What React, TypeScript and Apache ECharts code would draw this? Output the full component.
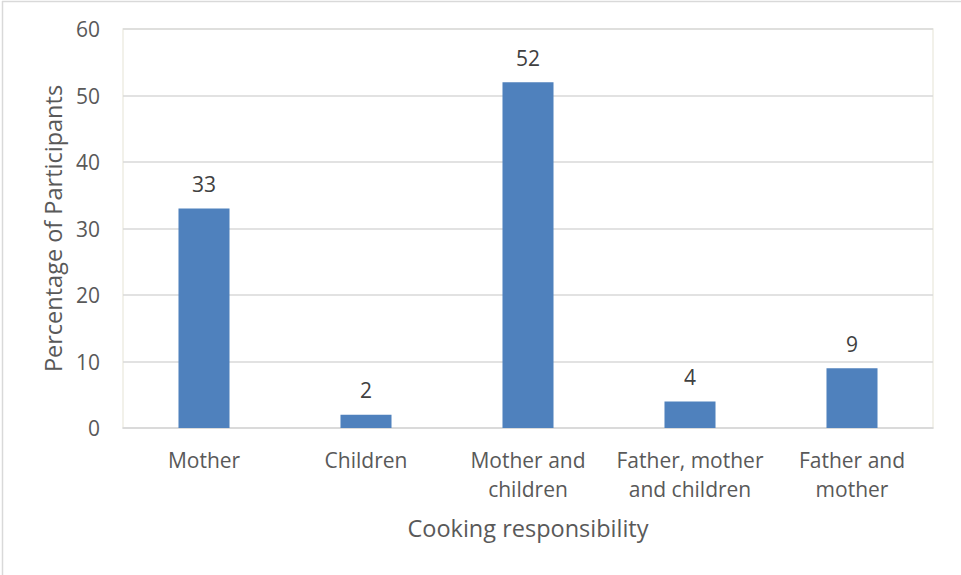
import React, { useEffect, useRef } from "react";
import * as echarts from "echarts";

const categories = ["Mother", "Children", "Mother and\nchildren", "Father, mother\nand children", "Father and\nmother"];
const values = [33, 2, 52, 4, 9];
const yTicks = { min: 0, max: 60, interval: 10 };
const xAxisTitle = "Cooking responsibility";
const yAxisTitle = "Percentage of Participants";

const FONT = "'Open Sans', sans-serif";
const TEXT = "#595959";

export default function App() {
  const ref = useRef<HTMLDivElement>(null);
  useEffect(() => {
    document.body.style.margin = "0";
    const chart = echarts.init(ref.current!, undefined, { renderer: "svg" });
    chart.setOption({
      animation: false,
      backgroundColor: "#ffffff",
      textStyle: { fontFamily: FONT },
      graphic: [
        { type: "line", shape: { x1: 2, y1: 1.5, x2: 961, y2: 1.5 }, style: { stroke: "#d9d9d9", lineWidth: 1.5 } },
        { type: "line", shape: { x1: 2.5, y1: 1, x2: 2.5, y2: 575 }, style: { stroke: "#d9d9d9", lineWidth: 1.5 } },
      ],
      grid: {
        left: 123,
        right: 28,
        top: 29,
        bottom: 147,
        show: true,
        borderColor: "#eeede4",
        borderWidth: 1.5,
        backgroundColor: "transparent",
      },
      xAxis: {
        type: "category",
        data: categories,
        name: xAxisTitle,
        nameLocation: "middle",
        nameGap: 100,
        nameTextStyle: { fontSize: 23.5, color: TEXT, fontFamily: FONT, verticalAlign: "middle" },
        axisLine: { lineStyle: { color: "#d9d9d9", width: 1.5 } },
        axisTick: { show: false },
        axisLabel: { fontSize: 21, color: TEXT, fontFamily: FONT, lineHeight: 29, margin: 17, interval: 0 },
      },
      yAxis: {
        type: "value",
        min: yTicks.min,
        max: yTicks.max,
        interval: yTicks.interval,
        name: yAxisTitle,
        nameLocation: "middle",
        nameRotate: 90,
        nameGap: 69,
        nameTextStyle: { fontSize: 23.5, color: TEXT, fontFamily: FONT, verticalAlign: "middle" },
        axisLine: { show: false },
        axisTick: { show: false },
        axisLabel: { fontSize: 21, color: TEXT, fontFamily: FONT, margin: 23 },
        splitLine: { lineStyle: { color: "#d9d9d9", width: 1.5 } },
      },
      series: [
        {
          type: "bar",
          data: values,
          barWidth: "31.5%",
          itemStyle: { color: "#4f81bd" },
          label: { show: true, position: "top", distance: 14, fontSize: 21, color: "#404040", fontFamily: FONT },
        },
      ],
    });
    return () => chart.dispose();
  }, []);
  return <div ref={ref} style={{ width: 961, height: 575 }} />;
}
